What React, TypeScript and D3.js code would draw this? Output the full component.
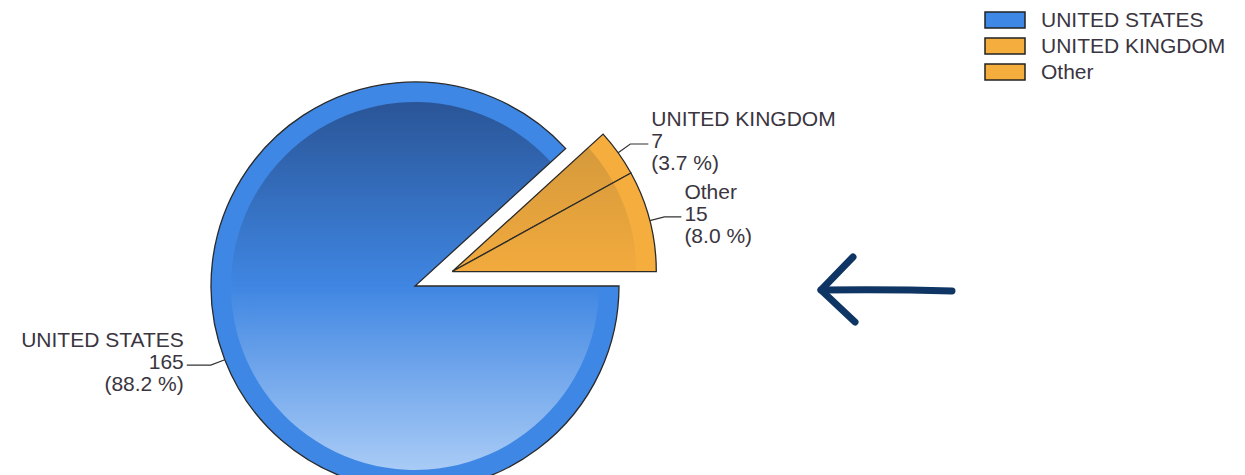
import React from "react";
import * as d3 from "d3";

// ---- data ----
const categories = ["UNITED STATES", "UNITED KINGDOM", "Other"];
const values = [165, 7, 15];
const percents = ["88.2 %", "3.7 %", "8.0 %"];
const legendLabels = ["UNITED STATES", "UNITED KINGDOM", "Other"];

// ---- styles / layout ----
const W = 1245;
const H = 475;
const CX = 415;
const CY = 286;
const R = 204;
const R_IN = 184;
const EXPLODE = 40;
const ringColors = ["#3e87e5", "#f5ae3e", "#f5ae3e"];
const gradStops = [
  ["#2a5597", "#3f86e2", "#a9cbf6"],
  ["#c8923b", "#f2aa3d", "#f7bd5a"],
  ["#c8923b", "#f2aa3d", "#f7bd5a"],
];
const labelShift = [24, 18, 17];
const FONT = "'Liberation Sans', Arial, sans-serif";
const TEXT_COLOR = "#3a3540";

export default function App() {
  const pie = d3
    .pie<number>()
    .value((d) => d)
    .sort(null)
    .startAngle(Math.PI / 2)
    .endAngle(Math.PI / 2 + 2 * Math.PI);
  const arcs = pie(values);

  const outer = d3.arc<d3.PieArcDatum<number>>().innerRadius(0).outerRadius(R);
  const inner = d3.arc<d3.PieArcDatum<number>>().innerRadius(0).outerRadius(R_IN);

  // exploded group: all slices after the first move together
  const gStart = arcs[1].startAngle;
  const gEnd = arcs[arcs.length - 1].endAngle;
  const gMid = (gStart + gEnd) / 2;
  const off = (i: number) =>
    i === 0 ? [0, 0] : [Math.sin(gMid) * EXPLODE, -Math.cos(gMid) * EXPLODE];

  const lineH = 22;

  return (
    <svg
      width={W}
      height={H}
      style={{ position: "absolute", left: 0, top: 0, background: "#fff" }}
      fontFamily={FONT}
    >
      <defs>
        {arcs.map((a, i) => (
          <linearGradient
            key={i}
            id={`g${i}`}
            gradientUnits="userSpaceOnUse"
            x1={0}
            x2={0}
            y1={-R_IN}
            y2={R_IN}
          >
            <stop offset="0" stopColor={gradStops[i][0]} />
            <stop offset="0.5" stopColor={gradStops[i][1]} />
            <stop offset="1" stopColor={gradStops[i][2]} />
          </linearGradient>
        ))}
      </defs>

      {arcs.map((a, i) => {
        const [ox, oy] = off(i);
        return (
          <g key={i} transform={`translate(${CX + ox},${CY + oy})`}>
            <path d={outer(a) || ""} fill={ringColors[i]} />
            <path d={inner(a) || ""} fill={`url(#g${i})`} />
            <path d={outer(a) || ""} fill="none" stroke="#2a2a2a" strokeWidth={1.3} strokeLinejoin="miter" />
          </g>
        );
      })}

      {/* labels with leader lines */}
      {arcs.map((a, i) => {
        const [ox, oy] = off(i);
        const mid = (a.startAngle + a.endAngle) / 2;
        const sx = Math.sin(mid);
        const sy = -Math.cos(mid);
        const p0 = [CX + ox + sx * R, CY + oy + sy * R];
        const p1 = [CX + ox + sx * (R + 15), CY + oy + sy * (R + 15)];
        const right = sx >= 0;
        const p2 = [p1[0] + (right ? 1 : -1) * labelShift[i], p1[1]];
        const tx = p2[0] + (right ? 3 : -3);
        const anchor = right ? "start" : "end";
        const lines = [categories[i], String(values[i]), `(${percents[i]})`];
        return (
          <g key={i}>
            <polyline
              points={[p0, p1, p2].map((p) => p.join(",")).join(" ")}
              fill="none"
              stroke="#333"
              strokeWidth={1.2}
            />
            {lines.map((t, j) => (
              <text
                key={j}
                x={tx}
                y={p1[1] + (j - 1) * lineH + 4}
                textAnchor={anchor}
                fontSize={21}
                fill={TEXT_COLOR}
              >
                {t}
              </text>
            ))}
          </g>
        );
      })}

      {/* legend */}
      {legendLabels.map((t, i) => (
        <g key={i} transform={`translate(985,${12 + i * 26})`}>
          <rect x={0} y={0} width={40} height={16} fill={ringColors[i]} stroke="#222" strokeWidth={1.5} />
          <text x={56} y={15} fontSize={21} fill={TEXT_COLOR}>
            {t}
          </text>
        </g>
      ))}

      {/* hand-drawn arrow annotation */}
      <g stroke="#0e3563" strokeWidth={7} strokeLinecap="round" strokeLinejoin="round" fill="none">
        <path d="M952,291 Q890,289 821,290" />
        <path d="M853,257 L821,290 L855,322" />
      </g>
    </svg>
  );
}
